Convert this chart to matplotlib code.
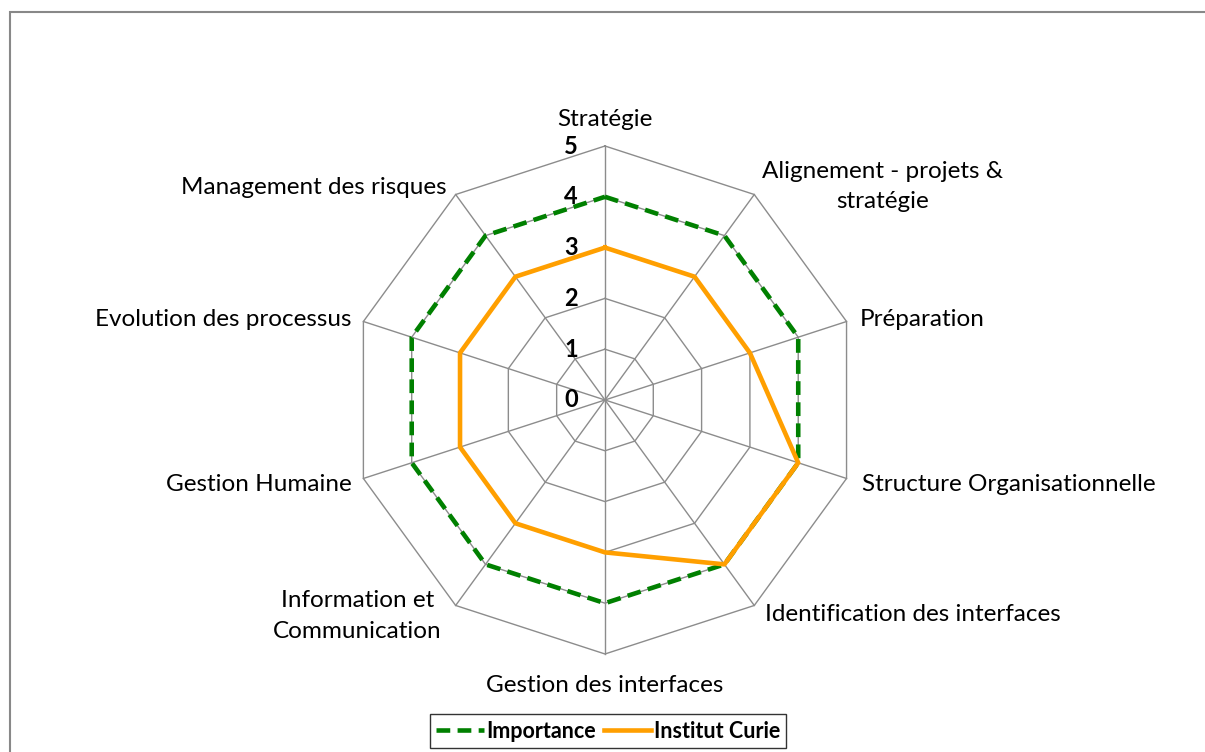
import matplotlib
matplotlib.use("Agg")
import matplotlib.pyplot as plt
import numpy as np
from matplotlib.patches import Rectangle
from matplotlib.lines import Line2D

plt.rcParams['font.family'] = ['Lato', 'DejaVu Sans']

categories = ["Stratégie", "Alignement - projets &\nstratégie", "Préparation",
              "Structure Organisationnelle", "Identification des interfaces",
              "Gestion des interfaces", "Information et\nCommunication",
              "Gestion Humaine", "Evolution des processus", "Management des risques"]
importance = [4, 4, 4, 4, 4, 4, 4, 4, 4, 4]
curie = [3, 3, 3, 4, 4, 3, 3, 3, 3, 3]
levels = [0, 1, 2, 3, 4, 5]

n = len(categories)
theta = np.radians(np.arange(n) * 360.0 / n)

def xy(vals):
    v = np.asarray(vals, float)
    v = np.append(v, v[0])
    t = np.append(theta, theta[0])
    return v * np.sin(t), v * np.cos(t)

fig = plt.figure(figsize=(12.05, 7.52), dpi=100)
ax = fig.add_axes([0.2491, 0.0628, 0.5059, 0.8106])
ax.set_xlim(-6, 6)
ax.set_ylim(-6, 6)
ax.axis("off")

grid_col = "#8c8c8c"
for lv in levels[1:]:
    gx, gy = xy([lv] * n)
    ax.plot(gx, gy, color=grid_col, lw=1.0, zorder=1)
for t in theta:
    ax.plot([0, 5 * np.sin(t)], [0, 5 * np.cos(t)], color=grid_col, lw=1.0, zorder=1)

for lv in levels:
    ax.text(-0.67, lv, str(lv), ha="center", va="center", fontsize=17,
            fontweight="bold")

ix, iy = xy(importance)
ax.plot(ix, iy, color="#008000", lw=3.3, ls=(0, (3, 1.6)), zorder=2)
cx, cy = xy(curie)
ax.plot(cx, cy, color="#FF9F00", lw=3.3, zorder=3)

# category labels (offsets tuned to the layout)
lab = [(0, 5.32, "center", "bottom"),
       (3.09, 4.20, "left", "center"),
       (5.02, 1.59, "left", "center"),
       (5.06, -1.67, "left", "center"),
       (3.15, -4.23, "left", "center"),
       (0, -5.42, "center", "top"),
       (-3.21, -4.25, "right", "center"),
       (-4.98, -1.67, "right", "center"),
       (-4.98, 1.59, "right", "center"),
       (-3.11, 4.19, "right", "center")]
for (lx, ly, ha, va), name in zip(lab, categories):
    ax.text(lx, ly, name, ha=ha, va=va, fontsize=17.5, multialignment="center",
            linespacing=1.55)

fig.patches.append(Rectangle((10 / 1205, -0.1), 1.2, (752 - 12) / 752 + 0.1,
                             transform=fig.transFigure, fill=False,
                             edgecolor="#888888", lw=1.5))

handles = [Line2D([], [], color="#008000", lw=3.3, ls=(0, (3, 1.6))),
           Line2D([], [], color="#FF9F00", lw=3.3)]
leg = fig.legend(handles, ["Importance", "Institut Curie"], loc="center",
                 bbox_to_anchor=(608 / 1205, 1 - 731 / 752), ncol=2,
                 frameon=True, fancybox=False, edgecolor="black",
                 prop={"weight": "bold", "size": 15.5}, handlelength=2.2,
                 handletextpad=0.1, columnspacing=0.4, borderpad=0.3)
leg.get_frame().set_linewidth(1.0)

fig.savefig("out.png", dpi=100)
